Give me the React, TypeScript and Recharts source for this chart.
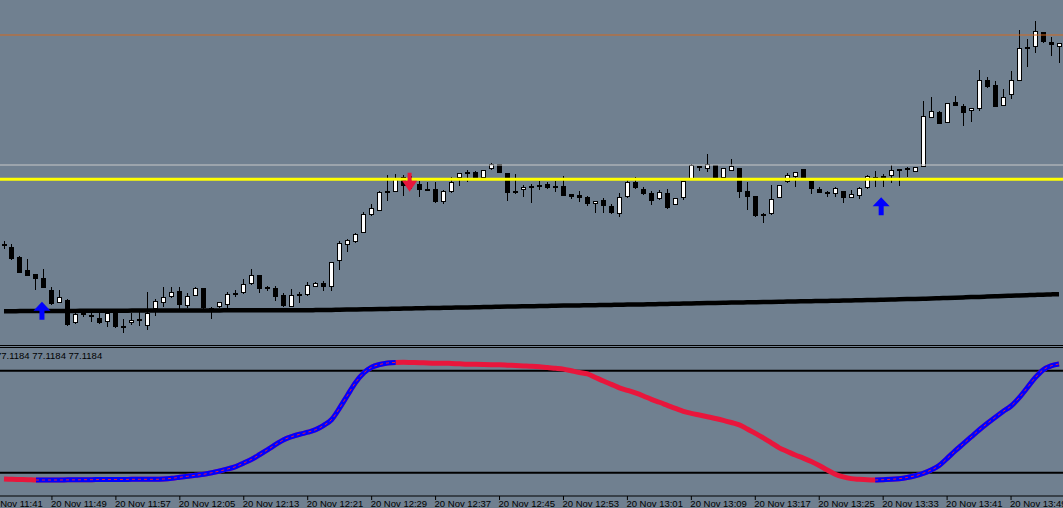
import React from "react";
import { ComposedChart, Bar, Line, XAxis, YAxis, ReferenceLine, ReferenceDot } from "recharts";

// price readings (points above the bottom of the price window)
const opens = [101, 98.3, 88.3, 75, 71, 67, 55, 42.3, 45, 21.7, 32, 30, 26.7, 23.3, 32.3, 19.3, 21.7, 25.7, 19.3, 35.7,
  41.7, 47.7, 54, 39.3, 49.3, 57, 37.3, 37.7, 40.3, 52, 51.7, 60.7, 70, 55.7, 56.7, 50.3, 38.3, 49, 50, 58.3,
  62, 58.3, 84.5, 100.5, 103.3, 111.7, 130.3, 134.3, 153.8, 153.3, 168, 164, 160.7, 156, 155.7, 142.7, 152.7, 166.7, 173, 172.7,
  166.7, 176, 181, 172.3, 151.7, 155, 159.3, 160, 161, 159.3, 159, 150.7, 150, 147.7, 141, 145, 139, 130.7, 147.7, 163.3,
  155.7, 151.7, 145.7, 151.7, 140, 146.7, 165, 179, 175.7, 180, 166.7, 174.3, 176.7, 154, 149, 131.5, 130.7, 146.7, 162.7, 168.3,
  176, 164, 155.7, 153.2, 150.7, 154, 146.7, 149.3, 156.7, 168.3, 166.7, 169.5, 173.8, 177, 173.3, 178.3, 227.3, 233, 221.7, 243,
  239, 233.7, 236, 265, 260, 239, 250.3, 264.3, 297.7, 298.3, 313, 303, 298.3];
const highs = [104.5, 100.7, 89, 86, 71, 76, 57.7, 55, 46, 33, 34, 32.3, 31.7, 34, 35, 25.7, 31.7, 35, 53.3, 45.7,
  58.3, 57.7, 57.7, 51.7, 57.7, 57, 38.3, 43, 53, 55, 65.7, 76, 70, 59, 59, 51.7, 55.7, 53, 63.5, 63.3,
  64, 83, 103.5, 106.5, 112.3, 132.7, 140.7, 154, 170, 170.7, 170, 169, 164.3, 163.3, 163.3, 154.5, 167.7, 172.3, 175, 174,
  175.5, 181.7, 181, 172.5, 171, 160, 161, 164.3, 163.3, 164.3, 169, 151, 154.3, 149, 144.5, 146.7, 140.7, 152.3, 165, 168.3,
  157.7, 154.3, 155, 155.7, 147, 164.5, 181, 179, 191, 180, 177, 186, 177, 163.3, 149, 132.3, 160, 160.3, 171.7, 173.5,
  176, 164, 158.3, 154.3, 158.3, 154, 155, 158.3, 170, 174.5, 171, 180, 176, 177.7, 178.3, 244.3, 248, 233.5, 242, 249,
  241, 237.5, 275, 268.3, 264, 256, 274.3, 315, 305.7, 324, 313.5, 307.7, 302.5];
const lows = [96.5, 85.5, 72, 69, 55, 57, 39.7, 42, 19.3, 21.5, 28.3, 23.3, 21, 18.3, 16.7, 12.3, 20.3, 19, 15, 29,
  38.3, 47.5, 36.3, 36.7, 49, 36.5, 25.7, 37.5, 36.7, 48.3, 51.5, 60.5, 51.7, 54.3, 44.3, 38.5, 38, 42, 49.5, 57.7,
  54.3, 54, 75.5, 93.3, 101.7, 111.5, 129.3, 134, 144.3, 153, 149.3, 156, 148.3, 155, 141.7, 141, 152.5, 159.3, 163.3, 167,
  166.5, 175, 172, 144.3, 151.5, 147.7, 142.3, 155, 155.7, 153.3, 149, 145.7, 142.7, 139.3, 132.3, 132.3, 131.5, 128.3, 147.5, 156.5,
  150, 140, 145.5, 136.5, 139.7, 145, 164.7, 174.3, 172.7, 166.5, 166.5, 174, 146.7, 135, 127.7, 122.3, 130.5, 146.5, 162.5, 158.3,
  167, 150.7, 152, 147.7, 147.7, 142.3, 146.5, 145.7, 156.5, 158.3, 158.3, 162.5, 159, 168.3, 173, 178, 227, 220.7, 221.5, 239,
  219, 223.3, 234.3, 257.5, 238, 238.7, 246, 264, 278.3, 292.3, 301.7, 289.3, 282.3];
const closes = [99, 86, 72.3, 69.3, 66, 57.3, 41, 47.7, 20, 30.7, 31, 27.7, 21.7, 32.3, 18.3, 18.7, 25, 23.7, 31.7, 44,
  47.7, 53, 40.3, 49, 56.7, 36.7, 36.7, 42.7, 50.7, 50.5, 61, 69.7, 56.3, 57.7, 48.3, 39, 50.3, 51, 60, 62.3,
  58, 82.7, 101.7, 104.7, 110.7, 130.7, 136.7, 152.7, 152.5, 167, 159, 160, 155, 155.2, 143.3, 154.3, 163.3, 171.7, 172, 167.3,
  175, 180.7, 172.3, 151.7, 154.3, 157.7, 158.3, 159.3, 157.3, 158.5, 149.3, 148.3, 146.7, 141, 144.3, 139.3, 131.7, 148.3, 163.3, 156.7,
  150.7, 144.3, 152.7, 136.7, 146.7, 164.3, 180, 177.7, 180.7, 166.7, 176.7, 179, 152.7, 147.7, 129, 130.5, 145.7, 160, 170, 173.3,
  167.3, 156, 152.3, 152.2, 156.7, 147.3, 150.7, 156.7, 169, 167.3, 169, 174.7, 175.7, 175.7, 178, 229, 234, 221, 241.7, 239.3,
  232.3, 237, 265, 257.7, 238.3, 247.7, 265, 296.7, 296, 313.7, 303, 300.3, 302.3];
const maValues = [33.8, 33.8, 33.9, 33.9, 34, 34, 34, 34.1, 34.1, 34.1, 34.2, 34.2, 34.2, 34.3, 34.3, 34.3, 34.4, 34.4, 34.4, 34.5,
  34.5, 34.5, 34.5, 34.6, 34.6, 34.6, 34.6, 34.6, 34.7, 34.7, 34.7, 34.7, 34.7, 34.7, 34.7, 34.7, 34.7, 34.8, 34.8, 34.9,
  35, 35.1, 35.3, 35.4, 35.5, 35.7, 35.8, 36, 36.1, 36.3, 36.4, 36.6, 36.7, 36.9, 37, 37.2, 37.3, 37.5, 37.6, 37.8,
  37.9, 38.1, 38.2, 38.4, 38.5, 38.7, 38.8, 38.9, 39.1, 39.2, 39.4, 39.5, 39.6, 39.7, 39.8, 40, 40.1, 40.2, 40.4, 40.5,
  40.6, 40.8, 40.9, 41.1, 41.2, 41.4, 41.5, 41.7, 41.9, 42, 42.2, 42.4, 42.5, 42.7, 42.8, 43, 43.1, 43.3, 43.4, 43.6,
  43.7, 43.8, 44, 44.1, 44.3, 44.4, 44.6, 44.8, 45, 45.1, 45.3, 45.5, 45.7, 45.9, 46.1, 46.3, 46.5, 46.8, 47, 47.3,
  47.6, 47.9, 48.1, 48.4, 48.7, 49, 49.2, 49.5, 49.8, 50.1, 50.3, 50.6, 50.8];

// oscillator in the lower window
const oscValues = [16.3, 16.1, 16, 15.9, 15.7, 15.7, 15.7, 15.7, 15.8, 15.8, 15.9, 15.9, 16, 16, 16, 16, 16.1, 16.1, 16.1, 16.1,
  16.3, 16.7, 17.3, 17.9, 18.5, 19.1, 20, 21, 22.2, 23.6, 25.7, 27.9, 30.7, 33.6, 36.6, 39.4, 41.2, 42.6, 43.8, 45.3,
  47.8, 51.3, 58.1, 65.7, 73.1, 78.6, 82, 83.6, 84.5, 84.8, 84.9, 84.8, 84.7, 84.5, 84.4, 84.4, 84.2, 84, 83.8, 83.7,
  83.6, 83.5, 83.4, 83.2, 83, 82.8, 82.6, 82.3, 81.8, 81.4, 80.9, 79.9, 78.9, 78.1, 76, 73.9, 71.9, 69.9, 68.4, 66.9,
  65.1, 63.1, 61.4, 59.6, 57.8, 56.1, 54.9, 53.9, 52.9, 51.9, 50.8, 49.5, 48.1, 45.7, 43.1, 40.5, 37.6, 34.6, 32.5, 30.4,
  28.6, 26.6, 24.2, 21.6, 19.1, 17.5, 16.5, 16.1, 15.8, 15.7, 15.9, 16.1, 16.5, 17.2, 18.2, 19.6, 21.6, 24.2, 28.4, 32.8,
  36.9, 41, 45.1, 48.9, 52.5, 56, 59.2, 64, 69.8, 75.7, 80.4, 82.8, 83.9];
const blueRanges = [[4, 49], [109, 132]];
const oscLevels = [80, 20];
const oscLabel = "77.1184 77.1184 77.1184";

const yellowLevel = 165.7;
const greyLevel = 180;
const orangeLevel = 310;

const upArrows = [{ i: 5, p: 43.3 }, { i: 110, p: 147.7 }];
const downArrows = [{ i: 51, p: 153.3 }];

const tickIdx = [-2, 6, 14, 22, 30, 38, 46, 54, 62, 70, 78, 86, 94, 102, 110, 118, 126];
const tickLabels = ["20 Nov 11:41", "20 Nov 11:49", "20 Nov 11:57", "20 Nov 12:05", "20 Nov 12:13", "20 Nov 12:21",
  "20 Nov 12:29", "20 Nov 12:37", "20 Nov 12:45", "20 Nov 12:53", "20 Nov 13:01", "20 Nov 13:09", "20 Nov 13:17",
  "20 Nov 13:25", "20 Nov 13:33", "20 Nov 13:41", "20 Nov 13:49"];

const W = 1063;
const BG = "#708090";
const RED = "#E8163C";
const FONT = "'Liberation Sans', Arial, sans-serif";

const rows = opens.map((o, i) => {
  const blue = blueRanges.some(([a, b]) => i >= a && i <= b);
  return {
    i,
    o,
    h: highs[i],
    l: lows[i],
    c: closes[i],
    range: [lows[i], highs[i]],
    ma: maValues[i],
    osc: oscValues[i],
    up: blue ? oscValues[i] : null,
  };
});

const Candle = (props: any) => {
  const { x, y, width, height, payload } = props;
  const top = Math.min(y, y + height);
  const bot = Math.max(y, y + height);
  const k = (bot - top) / (payload.h - payload.l);
  const cx = Math.round(x + width / 2);
  const yOf = (v: number) => top + (payload.h - v) * k;
  const bTop = Math.round(yOf(Math.max(payload.o, payload.c)));
  const bBot = Math.round(yOf(Math.min(payload.o, payload.c)));
  const bull = payload.c >= payload.o;
  return (
    <g shapeRendering="crispEdges">
      <line x1={cx + 0.5} x2={cx + 0.5} y1={Math.round(top)} y2={Math.round(bot)} stroke="#000" />
      {bBot - bTop < 3 ? (
        <rect x={cx - 2} y={bTop} width={5} height={2} fill="#000" />
      ) : (
        <rect x={cx - 1.5} y={bTop + 0.5} width={4} height={bBot - bTop - 1} fill={bull ? "#fff" : "#000"} stroke="#000" />
      )}
    </g>
  );
};

const ArrowUp = (props: any) => {
  const x = props.cx - 2;
  const y = props.cy;
  return (
    <path d={`M${x},${y} L${x + 8.5},${y + 9} L${x + 2.5},${y + 9} L${x + 2.5},${y + 18} L${x - 2.5},${y + 18} L${x - 2.5},${y + 9} L${x - 8.5},${y + 9} Z`} fill="#0000FF" />
  );
};

const ArrowDown = (props: any) => {
  const x = props.cx - 2;
  const y = props.cy;
  return (
    <path d={`M${x},${y} L${x + 7.5},${y - 11} L${x + 2},${y - 11} L${x + 2},${y - 19} L${x - 2},${y - 19} L${x - 2},${y - 11} L${x - 7.5},${y - 11} Z`} fill={RED} />
  );
};

const TimeTick = (props: any) => {
  const { x, y, payload } = props;
  const label = tickLabels[tickIdx.indexOf(payload.value)];
  return (
    <text x={x - 1} y={y - 2} dy="0.71em" textAnchor="start" fontSize={9.5} fontFamily={FONT} fill="#000">
      {label}
    </text>
  );
};

const App = () => {
  return (
    <div style={{ position: "absolute", left: 0, top: 0, width: W, height: 508, background: BG, overflow: "hidden" }}>
      <div style={{ position: "absolute", left: 0, top: 0 }}>
        <ComposedChart width={W} height={345} data={rows} margin={{ top: 0, right: 0, bottom: 0, left: 0 }}>
          <XAxis dataKey="i" type="category" hide />
          <YAxis type="number" domain={[0, 345]} allowDataOverflow hide />
          <Bar dataKey="range" barSize={5} shape={<Candle />} isAnimationActive={false} />
          <Line dataKey="ma" type="monotone" stroke="#000" strokeWidth={4.5} dot={false} activeDot={false} isAnimationActive={false} />
          {upArrows.map((a) => (
            <ReferenceDot key={"u" + a.i} x={a.i} y={a.p} shape={<ArrowUp />} />
          ))}
          {downArrows.map((a) => (
            <ReferenceDot key={"d" + a.i} x={a.i} y={a.p} shape={<ArrowDown />} />
          ))}
          <ReferenceLine y={orangeLevel} stroke="#D2691E" strokeWidth={1} />
          <ReferenceLine y={greyLevel} stroke="#C8C8C8" strokeWidth={1} />
          <ReferenceLine y={yellowLevel} stroke="#FFFF00" strokeWidth={3} />
        </ComposedChart>
      </div>
      <div style={{ position: "absolute", left: 0, top: 345, width: W, height: 1, background: "#000" }} />
      <div style={{ position: "absolute", left: 0, top: 347, width: W, height: 1, background: "#000" }} />
      <div style={{ position: "absolute", left: 0, top: 347 }}>
        <ComposedChart width={W} height={161} data={rows} margin={{ top: 0, right: 0, bottom: 0, left: 0 }}>
          <XAxis
            dataKey="i"
            type="number"
            domain={[-0.5, 132.5]}
            allowDataOverflow
            ticks={tickIdx}
            interval={0}
            height={12}
            tickSize={4}
            axisLine={{ stroke: "#000" }}
            tickLine={{ stroke: "#000" }}
            tick={<TimeTick />}
          />
          <YAxis type="number" domain={[6.3, 93.9]} allowDataOverflow hide />
          {oscLevels.map((v) => (
            <ReferenceLine key={v} y={v} stroke="#000" strokeWidth={2} />
          ))}
          <Line dataKey="osc" type="monotone" stroke={RED} strokeWidth={5} dot={false} activeDot={false} isAnimationActive={false} />
          <Line dataKey="up" type="monotone" stroke="#0000FF" strokeWidth={5} dot={false} activeDot={false} isAnimationActive={false} />
          <Line dataKey="up" type="monotone" stroke={RED} strokeWidth={1} strokeDasharray="3 3" dot={false} activeDot={false} isAnimationActive={false} />
        </ComposedChart>
      </div>
      <div style={{ position: "absolute", left: -4, top: 350, fontFamily: FONT, fontSize: 9.5, lineHeight: "12px", color: "#000", whiteSpace: "nowrap" }}>
        {oscLabel}
      </div>
    </div>
  );
};

export default App;
